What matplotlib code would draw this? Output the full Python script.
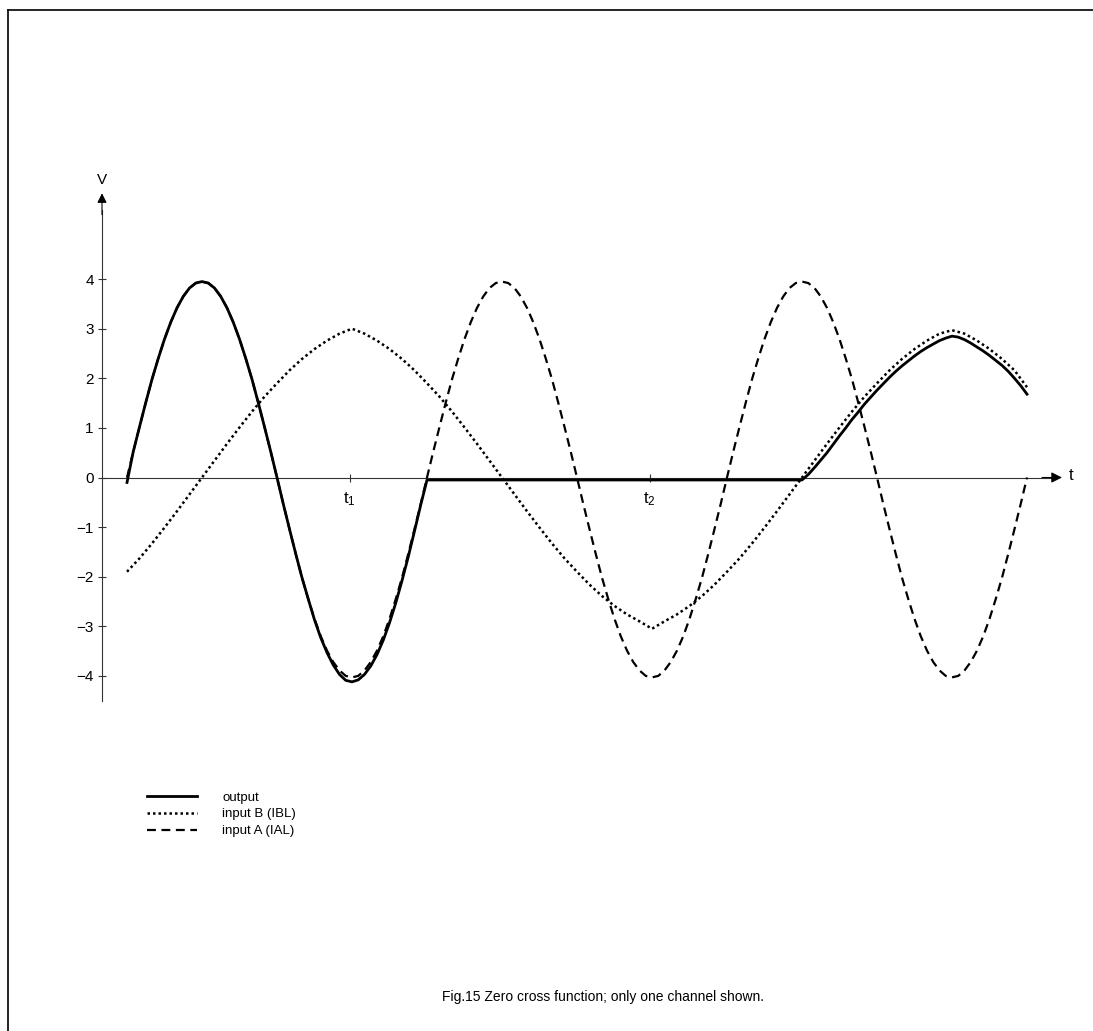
import numpy as np
import matplotlib
matplotlib.use("Agg")
import matplotlib.pyplot as plt
from matplotlib.lines import Line2D

plt.rcParams['font.family'] = ['Liberation Sans', 'DejaVu Sans']
plt.rcParams['mathtext.fontset'] = 'custom'
plt.rcParams['mathtext.rm'] = 'Liberation Sans'

# sample times: quarter steps for A and output, half steps for B (one A period = 12 units)
t_fine = np.linspace(0, 36, 145)
t_b = np.linspace(0, 36, 73)

# input A (IAL), dashed
input_a = [0, 0.52, 1.02, 1.51, 1.98, 2.40, 2.79, 3.13, 3.42, 3.65, 3.82, 3.92,
           3.95, 3.92, 3.82, 3.65, 3.42, 3.13, 2.79, 2.40, 1.98, 1.51, 1.02, 0.52,
           0, -0.53, -1.04, -1.54, -2.02, -2.45, -2.85, -3.20, -3.49, -3.72, -3.89, -4.00,
           -4.03, -4.00, -3.89, -3.72, -3.49, -3.20, -2.85, -2.45, -2.02, -1.54, -1.04, -0.53,
           0, 0.52, 1.02, 1.51, 1.98, 2.40, 2.79, 3.13, 3.42, 3.65, 3.82, 3.92,
           3.95, 3.92, 3.82, 3.65, 3.42, 3.13, 2.79, 2.40, 1.98, 1.51, 1.02, 0.52,
           0, -0.53, -1.04, -1.54, -2.02, -2.45, -2.85, -3.20, -3.49, -3.72, -3.89, -4.00,
           -4.03, -4.00, -3.89, -3.72, -3.49, -3.20, -2.85, -2.45, -2.02, -1.54, -1.04, -0.53,
           0, 0.52, 1.02, 1.51, 1.98, 2.40, 2.79, 3.13, 3.42, 3.65, 3.82, 3.92,
           3.95, 3.92, 3.82, 3.65, 3.42, 3.13, 2.79, 2.40, 1.98, 1.51, 1.02, 0.52,
           0, -0.53, -1.04, -1.54, -2.02, -2.45, -2.85, -3.20, -3.49, -3.72, -3.89, -4.00,
           -4.03, -4.00, -3.89, -3.72, -3.49, -3.20, -2.85, -2.45, -2.02, -1.54, -1.04, -0.53,
           0]

# input B (IBL), dotted
input_b = [-1.90, -1.63, -1.33, -1.01, -0.68, -0.34,
           0, 0.34, 0.68, 1.01, 1.33, 1.63, 1.90, 2.16, 2.39, 2.59, 2.76, 2.90,
           3.00, 2.90, 2.76, 2.59, 2.39, 2.16, 1.90, 1.63, 1.33, 1.01, 0.68, 0.34,
           0, -0.34, -0.68, -1.01, -1.33, -1.63, -1.90, -2.16, -2.39, -2.59, -2.76, -2.90,
           -3.05, -2.90, -2.76, -2.59, -2.39, -2.16, -1.90, -1.63, -1.33, -1.01, -0.68, -0.34,
           0, 0.34, 0.68, 1.01, 1.33, 1.63, 1.90, 2.16, 2.39, 2.59, 2.76, 2.90,
           2.97, 2.90, 2.76, 2.59, 2.39, 2.16, 1.82]

# output, solid: follows A, holds just below zero, then follows B
output = ([-0.1, 0.52, 1.02, 1.51, 1.98, 2.40, 2.79, 3.13, 3.42, 3.65, 3.82, 3.92,
           3.95, 3.92, 3.82, 3.65, 3.42, 3.13, 2.79, 2.40, 1.98, 1.51, 1.02, 0.52, 0,
           -0.53, -1.04, -1.54, -2.02, -2.45, -2.87, -3.23, -3.53, -3.78, -3.97, -4.09,
           -4.12, -4.08, -3.97, -3.80, -3.57, -3.28, -2.93, -2.53, -2.08, -1.60, -1.08, -0.55]
          + [-0.05] * 61
          + [0.06, 0.20, 0.35, 0.50, 0.67, 0.84, 1.00, 1.17, 1.32, 1.48, 1.62, 1.76,
             1.89, 2.02, 2.14, 2.25, 2.35, 2.45, 2.54, 2.62, 2.69, 2.76, 2.81, 2.85,
             2.83, 2.78, 2.71, 2.63, 2.55, 2.46, 2.36, 2.26, 2.14, 2.00, 1.85, 1.68])

y_ticks = [-4, -3, -2, -1, 0, 1, 2, 3, 4]
t_marks = [8.9, 20.9]
t_labels = [r'$\mathregular{t_1}$', r'$\mathregular{t_2}$']
caption = "Fig.15 Zero cross function; only one channel shown."

W, H = 1093, 1031
fig = plt.figure(figsize=(W / 100, H / 100), dpi=100)
ax = fig.add_axes([0, 0, 1, 1])
# limits put t=0 at x=127px (25px per unit) and v=0 at y=477.5px (49.6px per volt)
ax.set_xlim(-127 / 25, (W - 127) / 25)
ax.set_ylim((477.5 - H) / 49.6, 477.5 / 49.6)

ax.plot(t_b, input_b, color='black', lw=1.8, dashes=(1.0, 1.2), label='input B (IBL)', zorder=3)
ax.plot(t_fine, input_a, color='black', lw=1.6, dashes=(4, 2.5), label='input A (IAL)', zorder=3)
ax.plot(t_fine, output, color='black', lw=2.0, label='output', zorder=4)

# axes through the origin
for side in ['top', 'right']:
    ax.spines[side].set_visible(False)
ax.spines['left'].set_position(('data', -1.0))
ax.spines['bottom'].set_position(('data', 0))
ax.spines['left'].set_bounds(-4.5, 5.4)
ax.spines['bottom'].set_bounds(-1.0, 37.0)
for s in ['left', 'bottom']:
    ax.spines[s].set_linewidth(0.8)
    ax.spines[s].set_color('#333333')

ax.set_yticks(y_ticks)
ax.set_yticklabels([str(v).replace('-', '\u2212') for v in y_ticks])
ax.set_xticks(t_marks)
ax.set_xticklabels(t_labels)
ax.tick_params(axis='both', direction='inout', length=6, width=0.8, color='#333333',
               labelsize=11, pad=3)
ax.tick_params(axis='x', pad=6, labelsize=12)

# arrow heads and axis names
ax.annotate('', xy=(37.4, 0), xytext=(36.6, 0),
            arrowprops=dict(arrowstyle='-|>', color='black', lw=0.8, mutation_scale=16,
                            shrinkA=0, shrinkB=0))
ax.annotate('', xy=(-1.0, 5.73), xytext=(-1.0, 5.3),
            arrowprops=dict(arrowstyle='-|>', color='black', lw=0.8, mutation_scale=14,
                            shrinkA=0, shrinkB=0))
ax.text(37.65, 0.05, 't', fontsize=12, ha='left', va='center')
ax.text(-1.0, 5.86, 'V', fontsize=11, ha='center', va='bottom')

# legend: output, B, A
handles, labels = ax.get_legend_handles_labels()
order = [2, 0, 1]
ax.legend([handles[i] for i in order], [labels[i] for i in order],
          loc='upper left', bbox_to_anchor=(142 / W, 1 - 786 / H),
          frameon=False, fontsize=9.5, handlelength=3.8, handletextpad=1.9,
          labelspacing=0.35, borderaxespad=0)

fig.text(603 / W, 1 - 997 / H, caption, fontsize=10, ha='center', va='center')

# page frame: top and left edges
fig.add_artist(Line2D([8 / W, 1], [1 - 10 / H, 1 - 10 / H], color='black', lw=1.2))
fig.add_artist(Line2D([8 / W, 8 / W], [0, 1 - 10 / H], color='black', lw=1.2))

fig.savefig('out.png', dpi=100)
